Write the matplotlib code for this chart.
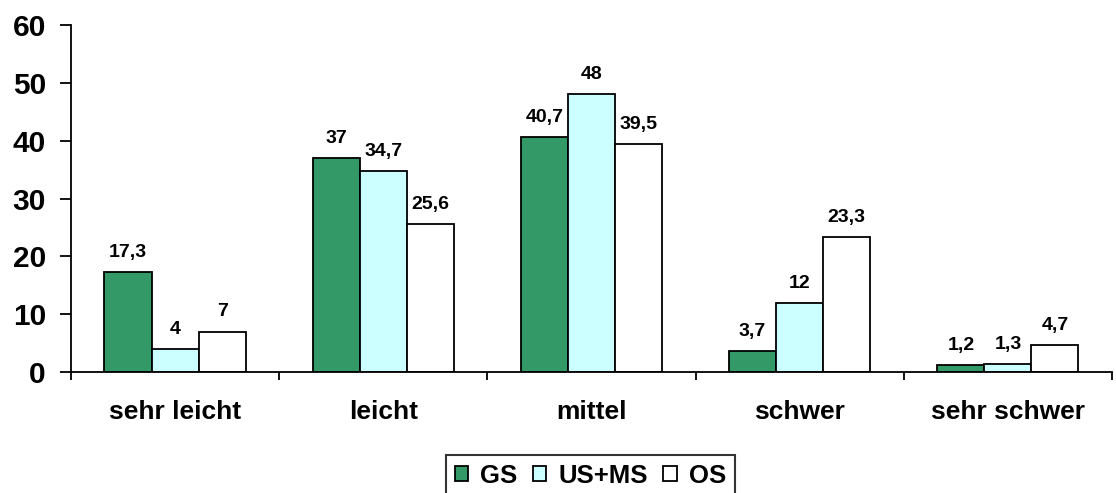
import matplotlib
matplotlib.use("Agg")
import matplotlib.pyplot as plt
import numpy as np

categories = ["sehr leicht", "leicht", "mittel", "schwer", "sehr schwer"]
series_names = ["GS", "US+MS", "OS"]
gs = [17.3, 37, 40.7, 3.7, 1.2]
usms = [4, 34.7, 48, 12, 1.3]
os_ = [7, 25.6, 39.5, 23.3, 4.7]
colors = ["#339966", "#CCFFFF", "#FFFFFF"]

plt.rcParams['font.family'] = ['Liberation Sans', 'DejaVu Sans']
plt.rcParams['font.weight'] = 'bold'

fig = plt.figure(figsize=(11.16, 4.93), dpi=100)
ax = fig.add_axes([0.0636, 0.2454, 0.9328, 0.7039])

x = np.arange(len(categories))
w = 0.226
data = [gs, usms, os_]
handles = []
for i, (vals, c, name) in enumerate(zip(data, colors, series_names)):
    bars = ax.bar(x + (i - 1) * w, vals, w, color=c, edgecolor='black', linewidth=1.3, label=name)
    handles.append(bars)
    for xi, v in zip(x + (i - 1) * w, vals):
        lbl = ("%g" % v).replace('.', ',')
        ax.text(xi, v + 2.6, lbl, ha='center', va='baseline', fontsize=14, fontweight='bold')

ax.set_xlim(-0.5, len(categories) - 0.5)
ax.set_ylim(0, 60)
ax.set_yticks([0, 10, 20, 30, 40, 50, 60])
ax.tick_params(axis='y', labelsize=21.5, direction='out', length=8, width=1.3, pad=10)
for l in ax.get_yticklabels():
    l.set_fontweight('bold')

ax.set_xticks(np.arange(-0.5, len(categories), 1.0))
ax.set_xticklabels([])
ax.set_xticks(x, minor=True)
ax.set_xticklabels(categories, minor=True, fontsize=19, fontweight='bold')
ax.tick_params(axis='x', which='major', direction='out', length=6, width=1.3)
ax.tick_params(axis='x', which='minor', length=0, pad=20)

for s in ['top', 'right']:
    ax.spines[s].set_visible(False)
for s in ['left', 'bottom']:
    ax.spines[s].set_linewidth(1.3)

leg = fig.legend(handles=handles, labels=series_names, loc='upper center',
                 bbox_to_anchor=(0.529, 1 - 455 / 493), ncol=3, frameon=True,
                 fancybox=False, edgecolor='black', prop={'size': 18.5, 'weight': 'bold'},
                 handlelength=0.52, handleheight=0.52, handletextpad=0.47, columnspacing=0.6,
                 borderpad=0.35, borderaxespad=0)
leg.get_frame().set_linewidth(1.5)

fig.savefig("out.png", dpi=100)
